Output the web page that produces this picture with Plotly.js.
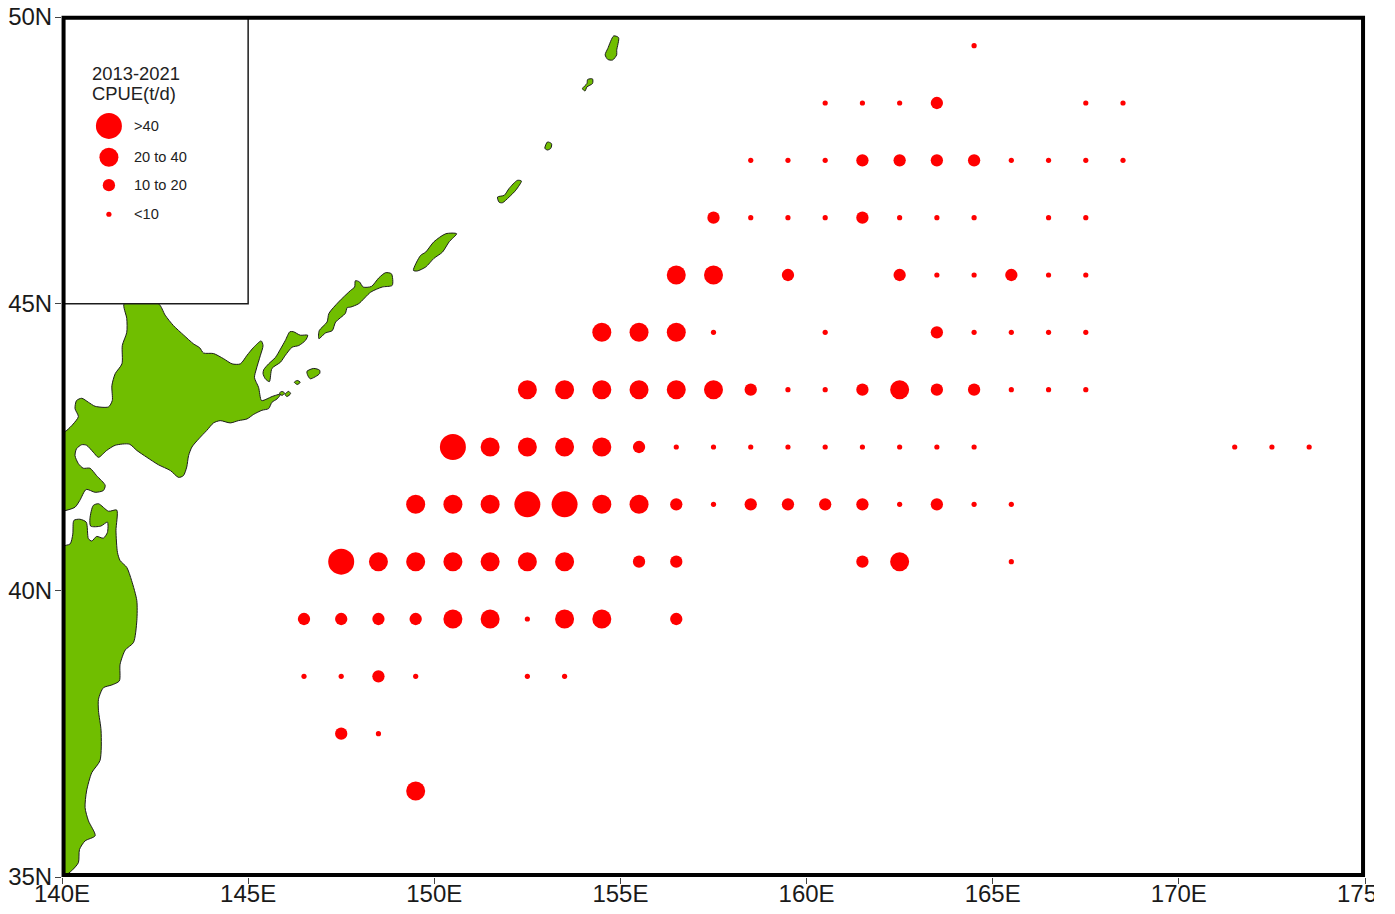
<!DOCTYPE html>
<html><head><meta charset="utf-8">
<script src="https://cdn.plot.ly/plotly-3.0.1.min.js"></script>
<style>html,body{margin:0;padding:0;background:#fff;overflow:hidden}
#chart{position:absolute;left:0;top:0;width:1395px;height:914px}
#crop{position:absolute;left:1374px;top:0;width:21px;height:914px;background:#fff}</style>
</head><body><div id="chart"></div><div id="crop"></div>
<script>
var xTickVals=[140,145,150,155,160,165,170,175];
var xTickText=['140E','145E','150E','155E','160E','165E','170E','175E'];
var yTickVals=[35,40,45,50];
var yTickText=['35N','40N','45N','50N'];

// CPUE (t/d) by 1-degree cell, rows of latitude
var rowLats=[49.5,48.5,47.5,46.5,45.5,44.5,43.5,42.5,41.5,40.5,39.5,38.5,37.5,36.5];
var rowLons=[
 [164.5],
 [160.5,161.5,162.5,163.5,167.5,168.5],
 [158.5,159.5,160.5,161.5,162.5,163.5,164.5,165.5,166.5,167.5,168.5],
 [157.5,158.5,159.5,160.5,161.5,162.5,163.5,164.5,166.5,167.5],
 [156.5,157.5,159.5,162.5,163.5,164.5,165.5,166.5,167.5],
 [154.5,155.5,156.5,157.5,160.5,163.5,164.5,165.5,166.5,167.5],
 [152.5,153.5,154.5,155.5,156.5,157.5,158.5,159.5,160.5,161.5,162.5,163.5,164.5,165.5,166.5,167.5],
 [150.5,151.5,152.5,153.5,154.5,155.5,156.5,157.5,158.5,159.5,160.5,161.5,162.5,163.5,164.5,171.5,172.5,173.5],
 [149.5,150.5,151.5,152.5,153.5,154.5,155.5,156.5,157.5,158.5,159.5,160.5,161.5,162.5,163.5,164.5,165.5],
 [147.5,148.5,149.5,150.5,151.5,152.5,153.5,155.5,156.5,161.5,162.5,165.5],
 [146.5,147.5,148.5,149.5,150.5,151.5,152.5,153.5,154.5,156.5],
 [146.5,147.5,148.5,149.5,152.5,153.5],
 [147.5,148.5],
 [149.5]
];
var rowVals=[
 [5],
 [5,5,5,15,5,5],
 [5,5,5,15,15,15,15,5,5,5,5],
 [15,5,5,5,15,5,5,5,5,5],
 [30,30,15,15,5,5,15,5,5],
 [30,30,30,5,5,15,5,5,5,5],
 [30,30,30,30,30,30,15,5,5,15,30,15,15,5,5,5],
 [45,30,30,30,30,15,5,5,5,5,5,5,5,5,5,5,5,5],
 [30,30,30,45,45,30,30,15,5,15,15,15,15,5,15,5,5],
 [45,30,30,30,30,30,30,15,15,15,30,5],
 [15,15,15,15,30,30,5,30,30,15],
 [5,5,15,5,5,5],
 [15,5],
 [30]
];

var legendVals=[45,30,15,5];
var legendLabels=['>40','20 to 40','10 to 20','<10'];
var legendTitle=['2013-2021','CPUE(t/d)'];

var hokkaidoLon=[142.59,142.77,142.99,143.27,143.53,143.70,143.80,144.07,144.34,144.57,144.79,144.97,145.15,145.35,145.40,145.33,145.22,145.17,145.28,145.36,145.51,145.64,145.87,145.78,145.64,145.55,145.37,145.15,144.97,144.74,144.52,144.25,144.07,143.89,143.67,143.49,143.40,143.35,143.26,143.13,142.91,142.59,142.28,142.01,141.81,141.43,141.20,140.98,140.84,140.66,140.53,140.39,140.35,140.44,140.57,140.75,140.93,141.16,141.11,140.89,140.65,140.48,140.35,140.08,140.0,140.0,140.13,140.30,140.44,140.35,140.39,140.53,140.71,140.89,141.25,141.35,141.34,141.43,141.61,141.62,141.74,141.74,141.67];
var hokkaidoLat=[45.0,44.80,44.62,44.45,44.30,44.23,44.14,44.13,44.04,43.95,43.95,44.10,44.24,44.35,44.27,44.10,43.86,43.71,43.54,43.31,43.34,43.38,43.42,43.34,43.28,43.17,43.14,43.07,42.99,42.96,42.92,42.96,42.92,42.79,42.64,42.50,42.35,42.15,42.00,41.97,42.09,42.19,42.32,42.44,42.55,42.53,42.44,42.32,42.41,42.53,42.54,42.47,42.35,42.21,42.13,42.13,42.00,41.83,41.74,41.71,41.76,41.57,41.45,41.39,41.39,42.73,42.79,42.90,43.03,43.17,43.31,43.35,43.28,43.21,43.20,43.31,43.57,43.78,43.95,44.27,44.50,44.74,45.0];
var honshuLon=[140.0,140.22,140.29,140.32,140.48,140.65,140.71,140.80,140.93,141.11,141.22,141.22,141.04,140.77,140.75,140.84,140.98,141.25,141.47,141.45,141.49,141.56,141.74,141.87,142.01,142.01,141.92,141.70,141.56,141.54,141.34,141.11,140.98,140.98,141.05,141.02,140.80,140.66,140.62,140.71,140.89,140.62,140.47,140.44,140.26,140.08,140.0];
var honshuLat=[40.75,40.81,40.98,41.22,41.24,41.19,40.90,40.86,40.94,40.91,41.01,41.19,41.12,41.12,41.25,41.48,41.51,41.38,41.40,41.04,40.66,40.52,40.40,40.17,39.82,39.47,39.09,38.96,38.71,38.42,38.35,38.30,38.10,37.90,37.55,37.03,36.82,36.50,36.21,35.98,35.72,35.63,35.48,35.25,35.11,35.02,35.0];
var kunashirLon=[145.42,145.55,145.73,145.87,146.00,146.12,146.22,146.40,146.60,146.54,146.36,146.18,146.00,145.87,145.64,145.57,145.46,145.40];
var kunashirLat=[43.85,43.95,44.06,44.21,44.36,44.51,44.51,44.45,44.45,44.36,44.27,44.24,44.10,43.98,43.87,43.64,43.69,43.78];
var shikotanLon=[146.58,146.76,146.92,146.92,146.67,146.60];
var shikotanLat=[43.82,43.87,43.84,43.78,43.69,43.75];
var islet1Lon=[146.24,146.32,146.40,146.32];
var islet1Lat=[43.63,43.66,43.63,43.59];
var islet2Lon=[145.84,145.91,145.98,145.91];
var islet2Lat=[43.44,43.47,43.44,43.40];
var islet3Lon=[145.99,146.09,146.14,146.04];
var islet3Lat=[43.42,43.47,43.43,43.38];
var iturupLon=[146.90,146.91,147.12,147.17,147.43,147.75,147.86,147.88,147.99,148.09,148.31,148.51,148.69,148.85,148.87,148.60,148.29,147.97,147.75,147.66,147.61,147.35,147.26,147.08];
var iturupLat=[44.39,44.53,44.68,44.83,45.03,45.23,45.29,45.40,45.38,45.29,45.30,45.45,45.54,45.52,45.32,45.29,45.20,45.00,44.94,44.93,44.83,44.68,44.53,44.49];
var urupLon=[149.44,149.63,149.77,149.99,150.31,150.60,150.40,150.22,149.99,149.77,149.54];
var urupLat=[45.58,45.84,45.90,46.08,46.22,46.22,46.08,45.90,45.79,45.64,45.57];
var simushirLon=[151.70,151.88,152.01,152.23,152.34,152.19,152.01,151.83,151.74];
var simushirLat=[46.86,46.89,47.01,47.15,47.14,46.98,46.86,46.76,46.77];
var ketoiLon=[152.97,153.04,153.15,153.13,153.04];
var ketoiLat=[47.71,47.82,47.79,47.71,47.68];
var shiashkotanLon=[153.98,154.10,154.12,154.25,154.25,154.10,154.05];
var shiashkotanLat=[48.75,48.84,48.91,48.92,48.84,48.78,48.71];
var onekotanLon=[154.59,154.66,154.82,154.95,154.90,154.90,154.79,154.66];
var onekotanLat=[49.34,49.45,49.67,49.64,49.42,49.34,49.25,49.26];

var landLons=[hokkaidoLon,honshuLon,kunashirLon,shikotanLon,islet1Lon,islet2Lon,islet3Lon,iturupLon,urupLon,simushirLon,ketoiLon,shiashkotanLon,onekotanLon];
var landLats=[hokkaidoLat,honshuLat,kunashirLat,shikotanLat,islet1Lat,islet2Lat,islet3Lat,iturupLat,urupLat,simushirLat,ketoiLat,shiashkotanLat,onekotanLat];

function classSize(v){return v>40?26:v>20?19:v>10?12.3:5.2;}

var traces=[];
landLons.forEach(function(lon,i){
  traces.push({x:lon.concat(lon[0]),y:landLats[i].concat(landLats[i][0]),mode:'lines',fill:'toself',fillcolor:'#70BE00',
    line:{color:'#1c1c1c',width:1,shape:'spline',smoothing:0.7},hoverinfo:'skip',showlegend:false});
});

var dotX=[],dotY=[],dotS=[];
rowLats.forEach(function(lat,r){rowLons[r].forEach(function(lon,c){
  dotX.push(lon);dotY.push(lat);dotS.push(classSize(rowVals[r][c]));});});
traces.push({x:dotX,y:dotY,mode:'markers',marker:{color:'#FF0000',opacity:1,size:dotS,line:{width:0}},showlegend:false,hoverinfo:'x+y'});

// legend panel, drawn over the land
traces.push({x:[140,145,145,140,140],y:[50,50,45,45,50],mode:'lines',fill:'toself',fillcolor:'#FFFFFF',
  line:{color:'#1c1c1c',width:1.5},hoverinfo:'skip',showlegend:false});
var legendLat=[48.10,47.555,47.066,46.56];
traces.push({x:legendVals.map(function(){return 141.26;}),y:legendLat,mode:'markers',
  marker:{color:'#FF0000',opacity:1,size:legendVals.map(classSize),line:{width:0}},showlegend:false,hoverinfo:'skip'});

var ann=[];
legendLabels.forEach(function(t,i){
  ann.push({xref:'x',yref:'y',x:141.87,y:legendLat[i],text:t.replace('<','&lt;').replace('>','&gt;'),showarrow:false,xanchor:'left',yanchor:'middle',
    font:{family:'Liberation Sans, Arial, sans-serif',size:14.6,color:'#222'}});
});
[49.01,48.66].forEach(function(lat,i){
  ann.push({xref:'x',yref:'y',x:140.75,y:lat,text:legendTitle[i],showarrow:false,xanchor:'left',yanchor:'middle',
    font:{family:'Liberation Sans, Arial, sans-serif',size:18.4,color:'#222'}});
});

var tickFont={family:'Liberation Sans, Arial, sans-serif',size:24,color:'#1a1a1a'};
var layout={width:1395,height:914,margin:{l:61.5,r:30,t:17,b:37,pad:0},paper_bgcolor:'#fff',plot_bgcolor:'#fff',showlegend:false,
  xaxis:{range:[140,175],tickmode:'array',tickvals:xTickVals,ticktext:xTickText,showgrid:false,zeroline:false,showline:false,ticks:'outside',ticklen:6,tickwidth:1,tickcolor:'#444',tickfont:tickFont,tickangle:0,ticklabelstandoff:-11},
  yaxis:{range:[35,50],tickmode:'array',tickvals:yTickVals,ticktext:yTickText,showgrid:false,zeroline:false,showline:false,ticks:'outside',ticklen:6,tickwidth:1,tickcolor:'#444',tickfont:tickFont,ticklabelstandoff:-2},
  shapes:[{type:'rect',xref:'paper',yref:'paper',x0:0.0012,x1:0.9985,y0:0.0023,y1:0.999,line:{color:'#000',width:4},fillcolor:'rgba(0,0,0,0)',layer:'above'}],
  annotations:ann};
Plotly.newPlot('chart',traces,layout,{displayModeBar:false,staticPlot:true});
</script></body></html>
